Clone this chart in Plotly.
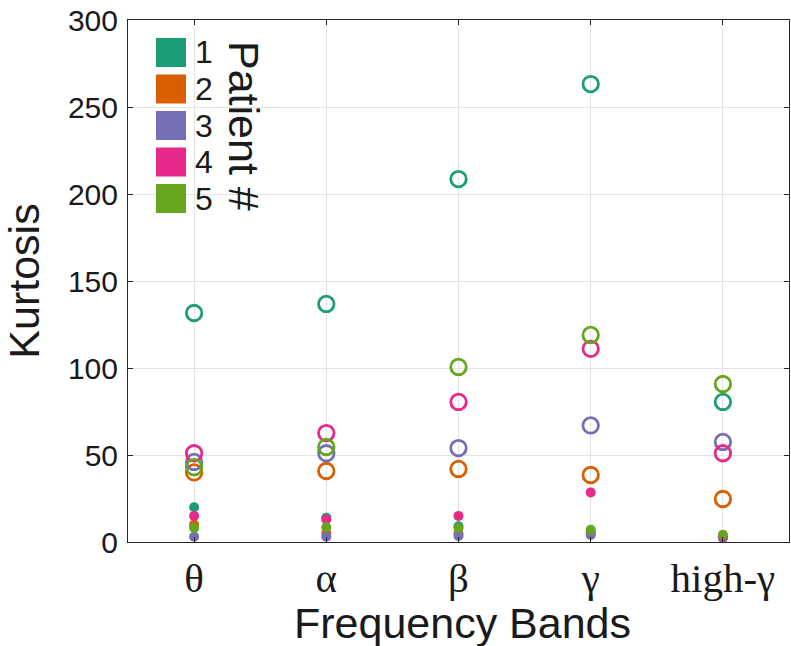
import plotly.graph_objects as go

# ---- data ----
bands = ["θ", "α", "β", "γ", "high-γ"]
patients = ["1", "2", "3", "4", "5"]
colors = ["#1b9e77", "#d95f02", "#7570b3", "#e7298a", "#66a61e"]

# open circles (one value per band, per patient)
kurt_open_p1 = [131.6, 136.8, 208.6, 263.2, 80.5]
kurt_open_p2 = [40.0, 40.8, 42.0, 38.5, 24.7]
kurt_open_p3 = [46.0, 51.0, 54.0, 67.0, 57.5]
kurt_open_p4 = [51.0, 62.6, 80.5, 111.0, 51.0]
kurt_open_p5 = [43.0, 54.6, 100.6, 119.0, 90.8]

# filled dots (one value per band, per patient)
kurt_fill_p1 = [20.0, 14.0, 9.0, 6.0, 2.5]
kurt_fill_p2 = [10.0, 5.0, 5.0, 5.0, 2.5]
kurt_fill_p3 = [3.0, 3.0, 3.5, 4.0, 2.5]
kurt_fill_p4 = [15.0, 13.0, 15.0, 28.5, 3.3]
kurt_fill_p5 = [8.0, 8.5, 8.0, 7.0, 4.2]

open_series = [kurt_open_p1, kurt_open_p2, kurt_open_p3, kurt_open_p4, kurt_open_p5]
fill_series = [kurt_fill_p1, kurt_fill_p2, kurt_fill_p3, kurt_fill_p4, kurt_fill_p5]

yticks = [0, 50, 100, 150, 200, 250, 300]

fig = go.Figure()

for name, col, vals in zip(patients, colors, fill_series):
    fig.add_trace(go.Scatter(
        x=bands, y=vals, mode="markers", name=name, showlegend=False,
        marker=dict(symbol="circle", size=10, color=col, line=dict(width=0)),
    ))
for name, col, vals in zip(patients, colors, open_series):
    fig.add_trace(go.Scatter(
        x=bands, y=vals, mode="markers", name=name, showlegend=False,
        marker=dict(symbol="circle-open", size=15.5, color=col,
                    line=dict(width=2.8, color=col)),
    ))

# ---- hand-drawn legend (squares + labels + rotated title) ----
W, H = 791, 646
ml, mr, mt, mb = 128, 2, 20, 104
pw, ph = W - ml - mr, H - mt - mb

def px_x(px):
    return (px - ml) / pw

def px_y(py):
    return (H - mb - py) / ph

shapes = []
annotations = []
sq_cx = 171
first_cy = 52.5
step = 36.5
for i, (name, col) in enumerate(zip(patients, colors)):
    cy = first_cy + i * step
    shapes.append(dict(
        type="rect", xref="paper", yref="paper",
        xsizemode="pixel", ysizemode="pixel",
        xanchor=px_x(sq_cx), yanchor=px_y(cy),
        x0=-15, x1=15, y0=-14.5, y1=14.5,
        fillcolor=col, line=dict(width=0), layer="above",
    ))
    annotations.append(dict(
        text=name, xref="paper", yref="paper",
        x=px_x(193), y=px_y(cy), xanchor="left", yanchor="middle",
        showarrow=False, font=dict(family="Liberation Sans, Arial", size=32, color="#1a1a1a"),
    ))
annotations.append(dict(
    text="Patient #", xref="paper", yref="paper",
    x=px_x(244), y=px_y(126), xanchor="center", yanchor="middle",
    textangle=90, showarrow=False,
    font=dict(family="Liberation Sans, Arial", size=43, color="#1a1a1a"),
))
# x-axis title as an annotation for exact placement
annotations.append(dict(
    text="Frequency Bands", xref="paper", yref="paper",
    x=px_x(462), y=px_y(623), xanchor="center", yanchor="middle",
    showarrow=False, borderpad=0,
    font=dict(family="Liberation Sans, Arial", size=43, color="#1a1a1a"),
))

fig.update_layout(
    width=W, height=H,
    margin=dict(l=ml, r=mr, t=mt, b=mb),
    paper_bgcolor="white", plot_bgcolor="white",
    showlegend=False,
    shapes=shapes, annotations=annotations,
    xaxis=dict(
        type="category", categoryorder="array", categoryarray=bands,
        range=[-0.5, 4.5],
        showgrid=True, gridcolor="#e3e3e3", gridwidth=1,
        showline=True, linecolor="#262626", linewidth=1, mirror="ticks",
        ticks="inside", ticklen=5, tickcolor="#262626",
        tickfont=dict(family="Liberation Serif, Times New Roman", size=41, color="#1a1a1a"),
        automargin=False,
    ),
    yaxis=dict(
        range=[0, 300], tickvals=yticks,
        showgrid=True, gridcolor="#e3e3e3", gridwidth=1, zeroline=False,
        showline=True, linecolor="#262626", linewidth=1, mirror="ticks",
        ticks="inside", ticklen=5, tickcolor="#262626",
        ticklabelstandoff=3,
        tickfont=dict(family="Liberation Sans, Arial", size=30, color="#1a1a1a"),
        title=dict(text="Kurtosis", standoff=14,
                   font=dict(family="Liberation Sans, Arial", size=43, color="#1a1a1a")),
        automargin=False,
    ),
)

fig.write_html("out.html")
